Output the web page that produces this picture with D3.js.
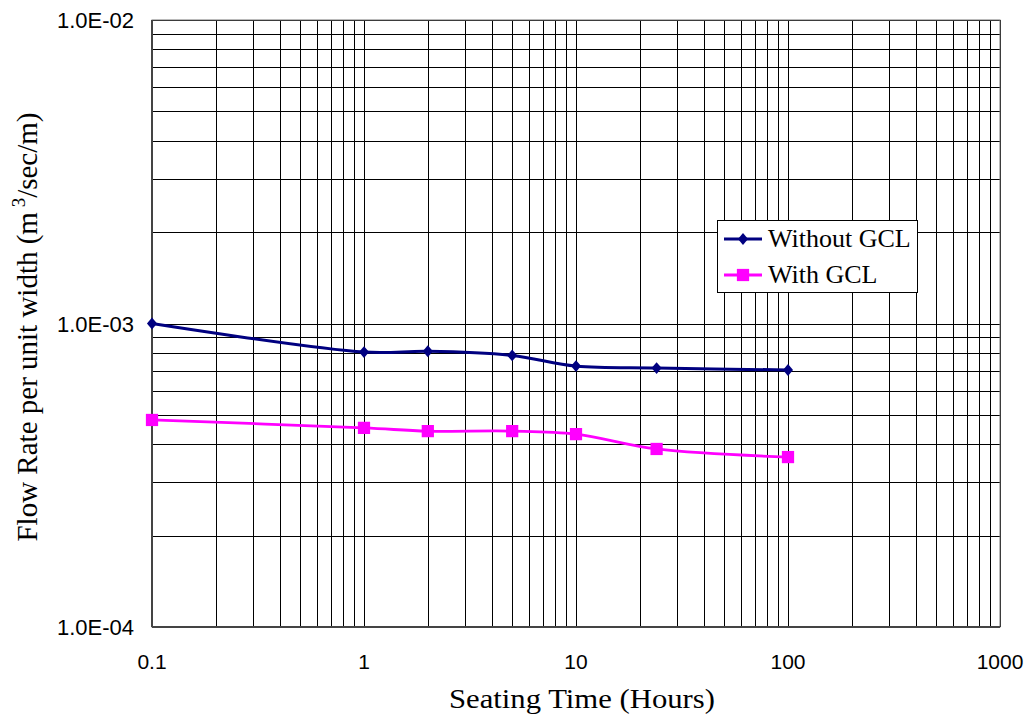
<!DOCTYPE html>
<html>
<head>
<meta charset="utf-8">
<script src="https://cdn.jsdelivr.net/npm/d3@7"></script>
<style>
  body { margin: 0; background: #fff; }
  svg { display: block; }
</style>
</head>
<body>
<svg id="chart" width="1029" height="724"></svg>
<script>
// seating time (hours)
const hours = [0.1, 1, 2, 5, 10, 24, 100];
const withoutGCL = [1.0e-3, 8.05e-4, 8.1e-4, 7.85e-4, 7.24e-4, 7.13e-4, 7.03e-4];
const withGCL = [4.81e-4, 4.53e-4, 4.42e-4, 4.42e-4, 4.32e-4, 3.86e-4, 3.63e-4];
const xTicks = [0.1, 1, 10, 100, 1000];
const yTicks = [1e-4, 1e-3, 1e-2];
const seriesNames = ["Without GCL", "With GCL"];

const svg = d3.select("#chart");
const pLeft = 152, pRight = 1000, pTop = 20, pBottom = 627;

const x = d3.scaleLog().domain([0.1, 1000]).range([pLeft, pRight]);
const y = d3.scaleLog().domain([1e-4, 1e-2]).range([pBottom, pTop]);

const sans = "Liberation Sans, Arial, sans-serif";
const serif = "Liberation Serif, Times New Roman, serif";

// grid lines, major and minor decades
const xGrid = [], yGrid = [];
for (let e = -1; e < 3; e++) for (let m = 1; m < 10; m++) xGrid.push(m * Math.pow(10, e));
for (let e = -4; e < -2; e++) for (let m = 1; m < 10; m++) yGrid.push(m * Math.pow(10, e));
xGrid.push(1000); yGrid.push(1e-2);

const grid = svg.append("g");
grid.selectAll(".vx").data(xGrid).enter().append("line")
    .attr("x1", d => Math.round(x(d)) + 0.5).attr("x2", d => Math.round(x(d)) + 0.5)
    .attr("y1", pTop).attr("y2", pBottom)
    .attr("stroke", "#000").attr("stroke-width", 1);
grid.selectAll(".hy").data(yGrid).enter().append("line")
    .attr("y1", d => Math.round(y(d)) + 0.5).attr("y2", d => Math.round(y(d)) + 0.5)
    .attr("x1", pLeft).attr("x2", pRight)
    .attr("stroke", "#000").attr("stroke-width", 1);

// frame
svg.append("rect").attr("x", pLeft).attr("y", pTop).attr("width", pRight - pLeft).attr("height", pBottom - pTop)
    .attr("fill", "none").attr("stroke", "#777").attr("stroke-width", 1);
svg.append("line").attr("x1", pLeft).attr("x2", pLeft).attr("y1", pTop).attr("y2", pBottom)
    .attr("stroke", "#444").attr("stroke-width", 2);
svg.append("line").attr("x1", pLeft).attr("x2", pRight).attr("y1", pBottom).attr("y2", pBottom)
    .attr("stroke", "#444").attr("stroke-width", 2);

// tick labels
svg.selectAll(".xt").data(xTicks).enter().append("text")
    .attr("x", d => x(d)).attr("y", 669)
    .attr("text-anchor", "middle")
    .attr("font-family", sans).attr("font-size", 21)
    .text(d => d3.format("~g")(d));
svg.selectAll(".yt").data(yTicks).enter().append("text")
    .attr("x", 134).attr("y", d => y(d) + 8)
    .attr("text-anchor", "end")
    .attr("font-family", sans).attr("font-size", 22)
    .text(d => d.toExponential(1).toUpperCase().replace(/E([+-])(\d)$/, "E$10$2"));

// axis titles
svg.append("text").attr("x", 582).attr("y", 708).attr("text-anchor", "middle")
    .attr("font-family", serif).attr("font-size", 28)
    .attr("textLength", 266).attr("lengthAdjust", "spacingAndGlyphs")
    .text("Seating Time (Hours)");
const yt = svg.append("text").attr("transform", "translate(37,327) rotate(-90)")
    .attr("text-anchor", "middle")
    .attr("font-family", serif).attr("font-size", 29);
yt.append("tspan").text("Flow Rate per unit width (m");
yt.append("tspan").attr("dy", -12).attr("font-size", 19).text(" 3");
yt.append("tspan").attr("dy", 12).text("/sec/m)");

// series
const line = d3.line().x(d => x(d[0])).y(d => y(d[1])).curve(d3.curveCatmullRom);
const blue = "#000080", pink = "#ff00ff";
const s1 = hours.map((h, i) => [h, withoutGCL[i]]);
const s2 = hours.map((h, i) => [h, withGCL[i]]);

svg.append("path").datum(s1).attr("d", line).attr("fill", "none").attr("stroke", blue).attr("stroke-width", 3);
svg.append("path").datum(s2).attr("d", line).attr("fill", "none").attr("stroke", pink).attr("stroke-width", 2.8);

const diamond = d3.symbol().type(d3.symbolDiamond2).size(90);
const square = d3.symbol().type(d3.symbolSquare).size(150);
svg.selectAll(".m1").data(s1).enter().append("path")
    .attr("d", diamond).attr("transform", d => `translate(${x(d[0])},${y(d[1])}) scale(0.85,1)`)
    .attr("fill", blue);
svg.selectAll(".m2").data(s2).enter().append("path")
    .attr("d", square).attr("transform", d => `translate(${x(d[0])},${y(d[1])})`)
    .attr("fill", pink);

// legend
const lg = svg.append("g");
lg.append("rect").attr("x", 717.5).attr("y", 220.5).attr("width", 200).attr("height", 72)
    .attr("fill", "#fff").attr("stroke", "#000").attr("stroke-width", 1);
const colors = [blue, pink];
const marks = [diamond, square];
seriesNames.forEach((name, i) => {
    const ly = 239 + i * 36;
    lg.append("line").attr("x1", 724).attr("x2", 762).attr("y1", ly).attr("y2", ly)
        .attr("stroke", colors[i]).attr("stroke-width", 3);
    lg.append("path").attr("d", marks[i])
        .attr("transform", i == 0 ? `translate(743,${ly}) scale(0.85,1)` : `translate(743,${ly})`)
        .attr("fill", colors[i]);
    lg.append("text").attr("x", 768).attr("y", ly + 8)
        .attr("font-family", serif).attr("font-size", 26)
        .text(name);
});
</script>
</body>
</html>
